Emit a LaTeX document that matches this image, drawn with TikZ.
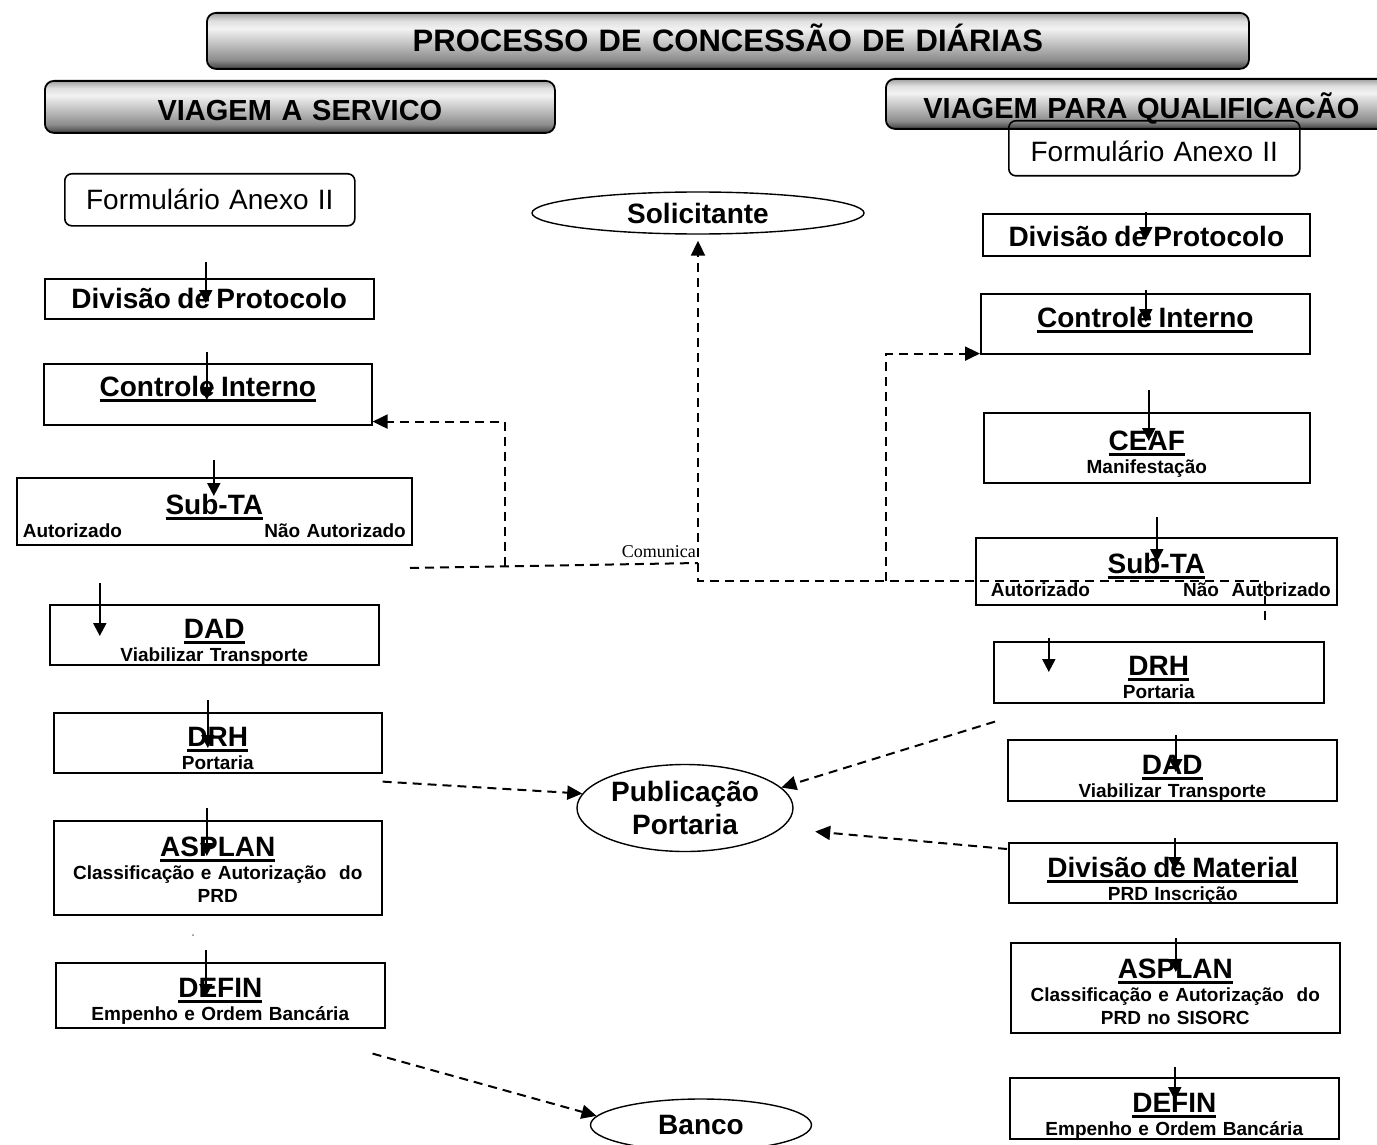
\documentclass[tikz,border=0pt]{standalone}
\usepackage{fontspec}
\setmainfont{Liberation Sans}
\newfontfamily\serifa{Liberation Serif}
\usetikzlibrary{arrows.meta,shapes.geometric}

\newsavebox{\ulcaixa}
\newcommand{\ulhead}[1]{\sbox\ulcaixa{#1}\rlap{\rule[-4.7pt]{\wd\ulcaixa}{2.6pt}}\usebox\ulcaixa}
\newcommand{\fhead}{\fontsize{28}{23}\selectfont\bfseries}
\newcommand{\fsub}{\fontsize{19}{23}\selectfont\bfseries}

\pgfdeclareverticalshading{faixa}{100bp}{color(0bp)=(black!75); color(25bp)=(black!75); color(33bp)=(gray!90); color(61bp)=(gray!10); color(68bp)=(gray!25); color(75bp)=(gray!75); color(100bp)=(gray!75)}

\tikzset{
  caixa/.style={draw, line width=1.6pt, inner sep=0pt, anchor=north west, align=center, font=\fsub},
  banner/.style={draw, line width=1.8pt, rounded corners=9pt, shade, shading=faixa, inner sep=0pt, anchor=north west, align=center, font=\fontsize{29}{30}\selectfont\bfseries},
  elipse/.style={ellipse, draw, line width=1.4pt, inner sep=0pt, align=center, font=\fontsize{28}{33}\selectfont\bfseries},
  seta/.style={line width=2.2pt, -{Triangle[length=13pt,width=13pt]}},
  tracejado/.style={line width=2pt, dash pattern=on 9pt off 6pt},
  ponta/.style={-{Triangle[length=15pt,width=14pt]}}
}

\begin{document}
\begin{tikzpicture}[x=1pt,y=-1pt]
\useasboundingbox (0,0) rectangle (1377,1145);

% faixas de titulo
\node[banner, text width=1042pt, text height=39pt, text depth=17pt, font=\fontsize{31}{32}\selectfont\bfseries] (titulo) at (206,12) {PROCESSO DE CONCESSÃO DE DIÁRIAS};
\node[banner, text width=510pt, text height=40pt, text depth=12pt] (servico) at (44,80) {VIAGEM A SERVICO};
\node[banner, text width=511pt, text height=40pt, text depth=10pt] (qualif) at (885,78) {VIAGEM PARA QUALIFICACÃO};

% viagem a servico
\node[caixa, rounded corners=7pt, font=\fontsize{28}{30}\selectfont, text width=290pt, text height=36pt, text depth=16pt] (lfor) at (64,173) {Formulário Anexo II};
\node[caixa, text width=329pt, text height=30pt, text depth=10pt] (lpro) at (44,278) {\fhead Divisão de Protocolo};
\node[caixa, text width=328pt, text height=33pt, text depth=28pt] (lci) at (43,363) {\fhead\ulhead{Controle Interno}};
\node[caixa, text width=395pt, text height=37pt, text depth=30pt] (lsub) at (16,477) {{\fhead\ulhead{Sub-TA}}\\\makebox[383pt]{Autorizado\hfill Não Autorizado}};
\node[caixa, text width=329pt, text height=34pt, text depth=26pt] (ldad) at (49,604) {{\fhead\ulhead{DAD}}\\Viabilizar Transporte};
\node[caixa, text width=328pt, text height=34pt, text depth=26pt] (ldrh) at (53,712) {{\fhead\ulhead{DRH}}\\Portaria};
\node[caixa, text width=328pt, text height=36pt, text depth=58pt] (lasp) at (53,820) {{\fhead\ulhead{ASPLAN}}\\Classificação e Autorização\ \ do\\PRD};
\node[caixa, text width=329pt, text height=35pt, text depth=30pt] (ldef) at (55,962) {{\fhead\ulhead{DEFIN}}\\Empenho e Ordem Bancária};
\fill[gray] (193,935) circle (1pt);

% viagem para qualificacao
\node[caixa, rounded corners=7pt, font=\fontsize{28}{30}\selectfont, text width=291pt, text height=41pt, text depth=14pt] (rfor) at (1008,120) {Formulário Anexo II};
\node[caixa, text width=327pt, text height=33pt, text depth=9pt] (rpro) at (982,213) {\fhead Divisão de Protocolo};
\node[caixa, text width=329pt, text height=34pt, text depth=26pt] (rci) at (980,293) {\fhead\ulhead{Controle Interno}};
\node[caixa, text width=326pt, text height=38pt, text depth=32pt] (rcea) at (983,412) {{\fhead\ulhead{CEAF}}\\Manifestação};
\node[caixa, text width=361pt, text height=36pt, text depth=31pt] (rsub) at (975,537) {{\fhead\ulhead{Sub-TA}}\\\makebox[349pt]{\hspace{9pt}Autorizado\hfill Não\ \ Autorizado}};
\node[caixa, text width=330pt, text height=34pt, text depth=27pt] (rdrh) at (993,641) {{\fhead\ulhead{DRH}}\\Portaria};
\node[caixa, text width=329pt, text height=35pt, text depth=26pt] (rdad) at (1007,739) {{\fhead\ulhead{DAD}}\\Viabilizar Transporte};
\node[caixa, text width=328pt, text height=35pt, text depth=25pt] (rmat) at (1008,842) {{\fhead\ulhead{Divisão de Material}}\\PRD Inscrição};
\node[caixa, text width=329pt, text height=36pt, text depth=54pt] (rasp) at (1010,942) {{\fhead\ulhead{ASPLAN}}\\Classificação e Autorização\ \ do\\PRD no SISORC};
\node[caixa, text width=329pt, text height=35pt, text depth=26pt] (rdef) at (1009,1077) {{\fhead\ulhead{DEFIN}}\\Empenho e Ordem Bancária};

% centro
\node[elipse, minimum width=332pt, minimum height=42pt] (sol) at (698,213) {Solicitante};
\node[elipse, minimum width=216pt, minimum height=87pt] (pub) at (685,808) {Publicação\\Portaria};
\node[elipse, minimum width=221pt, minimum height=52pt] (ban) at (701,1125) {Banco};

\foreach \n/\dx/\up/\len in {lpro/-3.5/16/41, lci/-1/11/48, lsub/-0.5/17/36, ldad/-114.5/21/53,
    ldrh/-10/12/48, lasp/-11/12/48, ldef/-14.5/12/47, rpro/-0.5/1/28, rci/0.5/3/32,
    rcea/2/22/51, rsub/0.5/20/45, rdrh/-110/3/34, rdad/3.5/4/37, rmat/2/4/32,
    rasp/0.5/4/34, rdef/0.5/10/33}
  \draw[seta] ([xshift=\dx pt,yshift=\up pt]\n.north) -- ++(0,\len);

% nao autorizado
\coordinate (nao) at (410,568);
\coordinate (jun) at (698,563);
\coordinate (ramo) at (505,566);
\coordinate (rnao) at (1265,620);
\coordinate (rramo) at (886,581);

\draw[tracejado] (nao) -- (jun);
\draw[tracejado, ponta] (ramo) |- ([yshift=4pt]lci.south east);
\draw[tracejado, ponta, shorten >=6pt] (rnao) -- ++(0,-39) -| (sol.south);
\draw[tracejado, ponta] (rramo) |- ([yshift=1pt]rci.south west);
\node[font=\serifa\fontsize{18}{20}\selectfont, anchor=base east, inner sep=0pt] (com) at (696,557) {Comunica};

% publicacao e banco
\draw[tracejado, ponta] ([yshift=-8pt]ldrh.south east) -- (pub.172);
\draw[tracejado, ponta] ([xshift=2pt,yshift=-18pt]rdrh.south west) -- (pub.12);
\draw[tracejado, ponta, shorten >=34pt] ([xshift=-1pt,yshift=-7pt]rmat.north west) -- (pub.-12);
\draw[tracejado, ponta] ([xshift=-13pt,yshift=-25pt]ldef.south east) -- (ban.175);

\end{tikzpicture}
\end{document}
